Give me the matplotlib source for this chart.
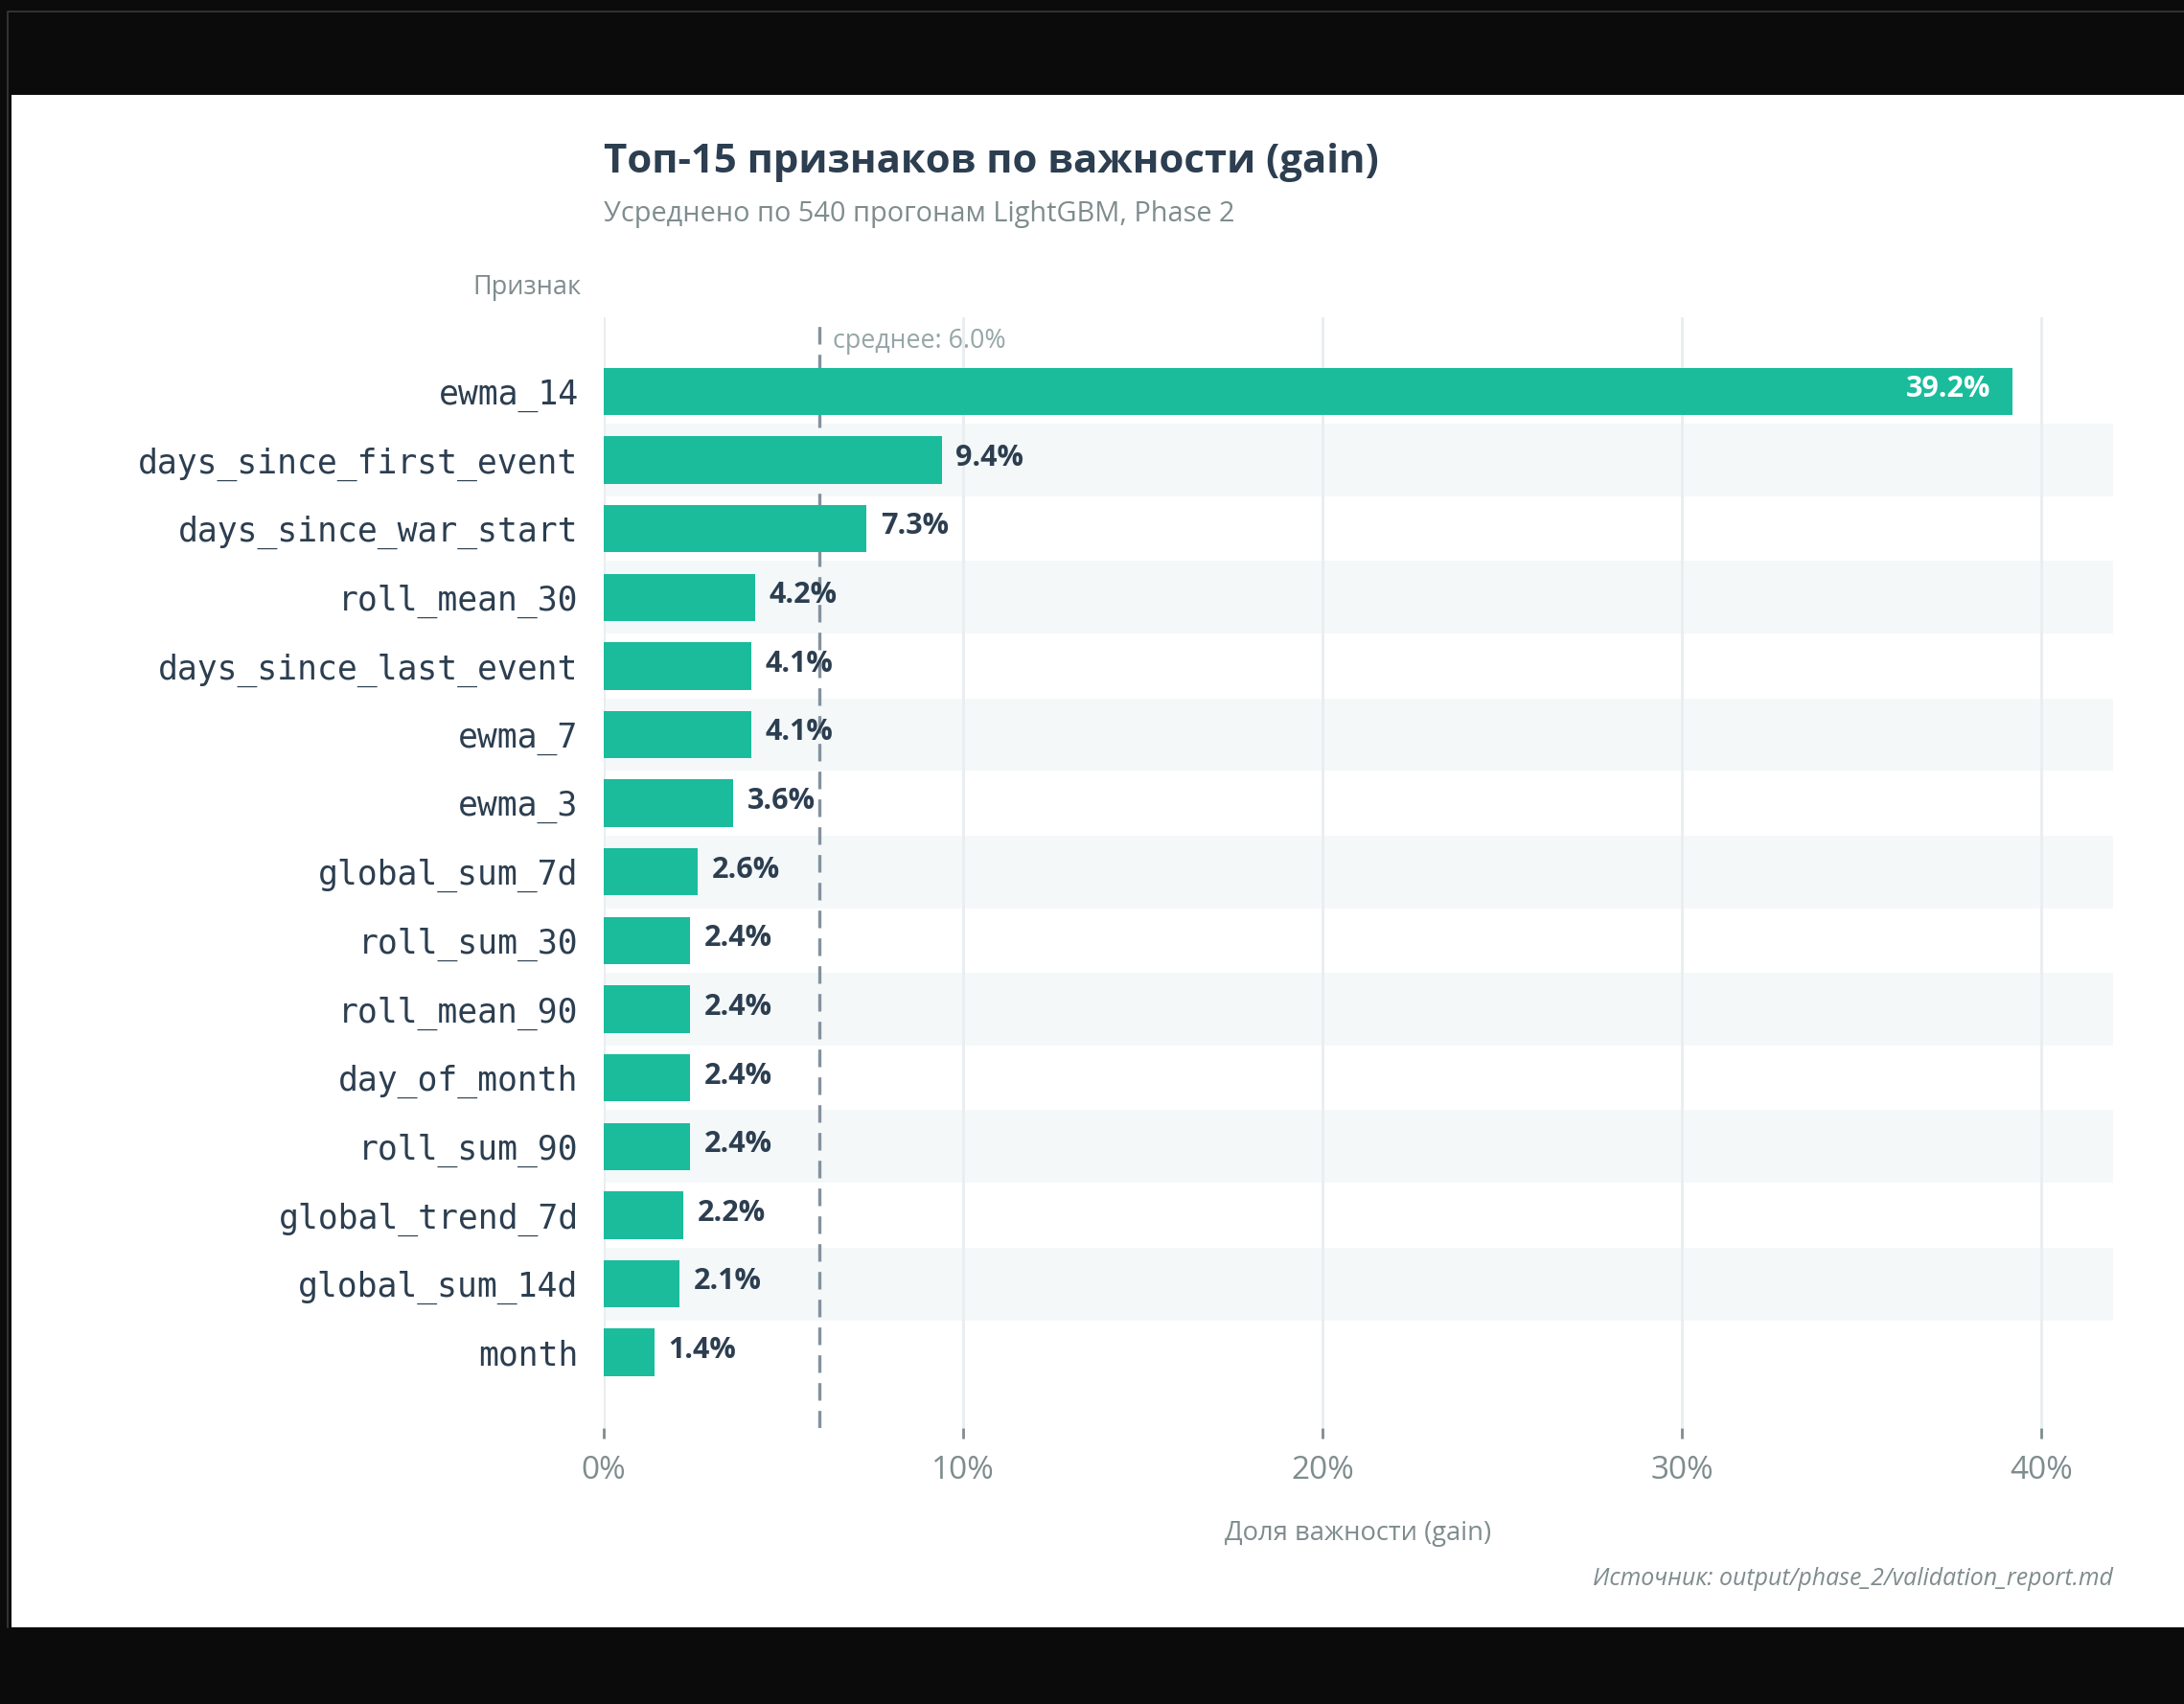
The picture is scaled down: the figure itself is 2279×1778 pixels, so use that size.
import numpy as np
import matplotlib
matplotlib.use("Agg")
import matplotlib.pyplot as plt
from matplotlib.patches import Rectangle
from matplotlib.lines import Line2D

# Données : importance moyenne (gain), top-15
features = ["ewma_14", "days_since_first_event", "days_since_war_start", "roll_mean_30",
            "days_since_last_event", "ewma_7", "ewma_3", "global_sum_7d", "roll_sum_30",
            "roll_mean_90", "day_of_month", "roll_sum_90", "global_trend_7d",
            "global_sum_14d", "month"]
importance = [39.2, 9.4, 7.3, 4.2, 4.1, 4.1, 3.6, 2.6, 2.4, 2.4, 2.4, 2.4, 2.2, 2.1, 1.4]
xticks = [0, 10, 20, 30, 40]
xtick_labels = ["0%", "10%", "20%", "30%", "40%"]

title = "Топ-15 признаков по важности (gain)"
subtitle = "Усреднено по 540 прогонам LightGBM, Phase 2"
source = "Источник: output/phase_2/validation_report.md"

plt.rcParams['font.family'] = ['Open Sans', 'DejaVu Sans']

W, H = 2279, 1778
DARK = "#2c3e50"
GREY = "#7f8c8d"
TEAL = "#1abc9c"

fig = plt.figure(figsize=(W / 100, H / 100), dpi=100)
fig.patch.set_facecolor("#0b0b0b")
# fine bordure en haut et à gauche
fig.add_artist(Line2D([8 / W, 8 / W, 1], [1 - 1698 / H, 1 - 12 / H, 1 - 12 / H],
                      transform=fig.transFigure, color="#3a3a3a", lw=1.2, zorder=0))
# panneau blanc
fig.add_artist(Rectangle((12 / W, 1 - 1698 / H), (W - 12) / W, (1698 - 99) / H,
                         transform=fig.transFigure, facecolor="white",
                         edgecolor="none", zorder=0))

ax = fig.add_axes([630 / W, 1 - 1490 / H, (2205 - 630) / W, (1490 - 331) / H])
ax.set_facecolor("white")
ax.set_axisbelow(True)

y = np.arange(len(features))

# bandes alternées
for i in y:
    if i % 2 == 1:
        ax.axhspan(i - 0.53, i + 0.53, color="#f4f8f9", lw=0, zorder=0)

ax.barh(y, importance, height=0.69, color=TEAL, zorder=2)

moyenne = np.mean(importance)
ax.axvline(moyenne, color="#85929e", lw=2.4, dashes=(5.5, 3.2), zorder=1.5)
ax.text(moyenne + 0.38, -0.73, f"среднее: {moyenne:.1f}%", color="#95a5a6",
        fontsize=19.3, va="center", ha="left", zorder=3)

vmax = max(importance)
for i, v in enumerate(importance):
    if v == vmax:
        ax.text(v - 0.6, i - 0.03, f"{v:.1f}%", color="white", fontsize=22,
                fontweight="bold", va="center", ha="right", zorder=3)
    else:
        ax.text(v + 0.4, i - 0.03, f"{v:.1f}%", color=DARK, fontsize=22,
                fontweight="bold", va="center", ha="left", zorder=3)

ax.set_xlim(0, 42)
ax.set_ylim(len(features) - 1 + 1.1, -1.08)

ax.set_xticks(xticks)
ax.set_xticklabels(xtick_labels, fontsize=24, color=GREY)
ax.xaxis.grid(True, color="#e9edef", lw=2)
ax.tick_params(axis="x", length=8, width=2, color=GREY, pad=12)

ax.set_yticks(y)
ax.set_yticklabels(features, fontsize=25, color=DARK, family="DejaVu Sans Mono")
ax.tick_params(axis="y", length=0, pad=19)

for s in ax.spines.values():
    s.set_visible(False)

fig.text(630 / W, 1 - 169 / H, title, fontsize=30.2, fontweight="bold", color=DARK,
         va="center", ha="left")
fig.text(630 / W, 1 - 223 / H, subtitle, fontsize=20.8, color=GREY, va="center", ha="left")
fig.text(606 / W, 1 - 300 / H, "Признак", fontsize=19.5, color=GREY, va="center", ha="right")
fig.text(1417 / W, 1 - 1600 / H, "Доля важности (gain)", fontsize=19.7, color=GREY,
         va="center", ha="center")
fig.text(2205 / W, 1 - 1647 / H, source, fontsize=17.9, color=GREY, style="italic",
         va="center", ha="right")

fig.savefig("out.png", dpi=100, facecolor=fig.get_facecolor())
